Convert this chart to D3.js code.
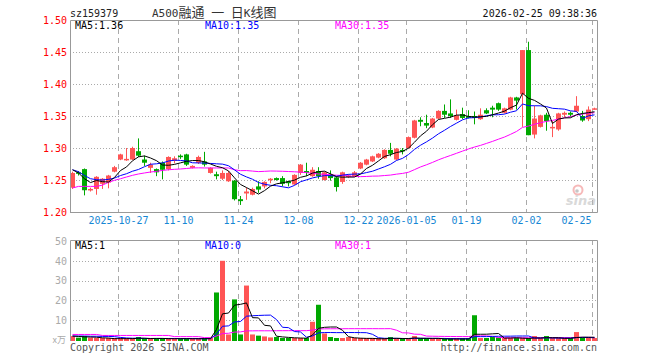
<!DOCTYPE html>
<html>
<head>
<meta charset="utf-8">
<script src="https://cdn.jsdelivr.net/npm/d3@7"></script>
<style>
body { margin: 0; background: #fff; }
text { font-family: "DejaVu Sans Mono", monospace; font-size: 10px; }
</style>
</head>
<body>
<div id="chart"></div>
<script>
// daily candles 2025-10-15 .. 2026-02-25 (88 trading days)
var open  = [1.238,1.262,1.267,1.234,1.236,1.244,1.246,1.263,1.282,1.281,1.282,1.295,1.282,1.269,1.267,1.277,1.267,1.280,1.288,1.290,
             1.269,1.277,1.279,1.261,1.259,1.252,1.248,1.249,1.220,1.229,1.227,1.240,1.240,1.250,1.253,1.253,1.248,1.243,1.261,1.264,
             1.256,1.264,1.250,1.258,1.254,1.247,1.255,1.256,1.268,1.274,1.279,1.285,1.284,1.297,1.282,1.297,1.300,1.316,1.344,1.339,
             1.332,1.346,1.358,1.354,1.344,1.353,1.350,1.350,1.345,1.359,1.363,1.370,1.355,1.360,1.379,1.384,1.453,1.321,1.333,1.352,
             1.332,1.329,1.352,1.355,1.357,1.350,1.345,1.361];
var high  = [1.263,1.264,1.268,1.238,1.256,1.253,1.258,1.272,1.291,1.300,1.302,1.315,1.288,1.277,1.268,1.279,1.287,1.287,1.290,1.291,
             1.273,1.288,1.294,1.270,1.263,1.265,1.264,1.250,1.225,1.238,1.238,1.248,1.248,1.253,1.254,1.256,1.249,1.259,1.275,1.277,
             1.270,1.270,1.263,1.265,1.256,1.263,1.259,1.264,1.278,1.283,1.288,1.292,1.298,1.308,1.300,1.300,1.318,1.344,1.348,1.352,
             1.347,1.359,1.368,1.376,1.360,1.363,1.359,1.357,1.362,1.362,1.366,1.371,1.363,1.380,1.380,1.453,1.466,1.366,1.352,1.355,
             1.342,1.355,1.357,1.357,1.381,1.358,1.365,1.363];
var low   = [1.236,1.257,1.226,1.232,1.227,1.236,1.237,1.262,1.281,1.280,1.281,1.286,1.272,1.261,1.256,1.251,1.265,1.276,1.283,1.272,
             1.268,1.275,1.271,1.260,1.251,1.250,1.247,1.218,1.211,1.219,1.226,1.230,1.237,1.245,1.249,1.240,1.240,1.242,1.258,1.256,
             1.255,1.252,1.249,1.249,1.232,1.244,1.253,1.255,1.267,1.273,1.278,1.284,1.283,1.287,1.281,1.290,1.299,1.315,1.334,1.331,
             1.331,1.345,1.347,1.347,1.343,1.345,1.346,1.337,1.344,1.353,1.348,1.358,1.354,1.359,1.360,1.333,1.320,1.315,1.332,1.327,
             1.317,1.327,1.348,1.348,1.356,1.341,1.342,1.360];
var close = [1.261,1.260,1.234,1.236,1.255,1.252,1.257,1.270,1.290,1.283,1.300,1.288,1.277,1.274,1.262,1.266,1.286,1.284,1.286,1.274,
             1.272,1.286,1.274,1.269,1.256,1.261,1.261,1.220,1.217,1.232,1.236,1.235,1.247,1.252,1.250,1.244,1.245,1.258,1.274,1.261,
             1.266,1.256,1.262,1.253,1.239,1.262,1.257,1.262,1.277,1.282,1.287,1.291,1.297,1.291,1.299,1.295,1.317,1.343,1.341,1.335,
             1.346,1.358,1.352,1.350,1.351,1.347,1.347,1.347,1.352,1.354,1.360,1.360,1.362,1.379,1.374,1.453,1.320,1.346,1.351,1.342,
             1.333,1.354,1.355,1.352,1.366,1.343,1.360,1.362];
// volume, 万
var volume = [2.0,1.2,2.0,1.2,0.6,0.5,0.6,0.5,1.2,0.6,0.6,1.5,0.6,0.5,0.8,0.6,0.8,0.5,0.6,0.8,
              0.5,0.8,0.6,0.7,24,40,2.8,20.5,2.8,27.5,2.8,2.2,1.8,1.3,1.5,1.0,1.0,0.8,0.7,1.0,
              9.2,17.8,3.3,1.5,1.0,1.0,1.5,0.6,0.5,0.5,1.0,0.5,0.5,1.5,0.7,0.5,0.5,2.0,0.7,0.5,
              0.5,0.5,0.5,0.5,0.5,0.5,0.5,12.5,0.5,0.6,1.5,1.3,0.8,0.7,1.2,0.6,0.6,2.0,0.6,2.0,
              0.5,0.6,0.6,0.6,4.0,1.3,0.5,0.5];

// averages before a full window exists
var priceMa5Head  = [1.266,1.261,1.252,1.246];
var priceMa10Head = [1.266,1.263,1.257,1.252,1.2505,1.250,1.251,1.253,1.257];
var priceMa30Head = [1.2375,1.240,1.240,1.240,1.240,1.242,1.2464,1.2495,1.252,1.2547,1.2573,1.2594,1.261,1.2625,1.2635,
                     1.265,1.266,1.2667,1.2672,1.268,1.2688,1.269,1.2688,1.2688,1.2688,1.2688,1.2688,1.266,1.2646];
var volMa5Head  = [2.0,1.8,1.6,1.5];
var volMa10Head = [2.0,2.0,2.0,1.9,1.9,1.8,1.8,1.7,1.3];
var volMa30Head = [2.8,2.8,2.8,2.8,2.8,2.3,2.3,2.3,2.3,2.3,2.3,2.3,2.3,2.3,2.3,2.3,2.3,
                   1.7,1.7,1.7,1.7,1.7,1.2,1.2,2.0,3.3,3.4,4.0,4.1];

var priceTicks = [1.20,1.25,1.30,1.35,1.40,1.45,1.50];
var volTicks = [10,20,30,40,50];
var dateLabels = ["2025-10-27","11-10","11-24","12-08","12-22","2026-01-05","01-19","02-02","02-25"];
var dateIndex  = [8,18,28,38,48,56,66,76,87];

var width = 660, height = 360;
var L = 70, R = 597;
var red = "#ff5555", green = "#00a800", grid = "#aaaaaa";

var svg = d3.select("#chart").append("svg").attr("width", width).attr("height", height);

var x = d3.scaleLinear().domain([0, close.length - 1]).range([72.5, 72.5 + 6 * (close.length - 1)]);
var y = d3.scaleLinear().domain([1.20, 1.50]).range([212, 20]);
var yv = d3.scaleLinear().domain([0, 50]).range([340, 241]);

function movAvg(vals, n, head) {
	return vals.map(function(v, i) {
		if (i < head.length) return head[i];
		return d3.mean(vals.slice(i - n + 1, i + 1));
	});
}
function isUp(i) { return close[i] >= open[i]; }

// header
svg.append("text").attr("x", 70).attr("y", 17).attr("fill", "#222").text("sz159379");
var title = svg.append("text").attr("x", 152).attr("y", 17).attr("fill", "#333");
[["A500", 0], ["融通", 1], [" ", 0], ["一", 1], [" ", 0], ["日", 1], ["K", 0], ["线图", 1]].forEach(function(p) {
	var t = title.append("tspan").attr("xml:space", "preserve").text(p[0]);
	if (p[1]) t.style("font-family", "Noto Sans CJK SC").style("font-size", "13px");
	else t.style("font-size", "11px");
});
svg.append("text").attr("x", 597).attr("y", 17).attr("text-anchor", "end").attr("fill", "#111").text("2026-02-25 09:38:36");

// grids
var panels = [{top: 20, bottom: 212, ticks: priceTicks.slice(1, -1).map(y)},
              {top: 240, bottom: 341, ticks: volTicks.slice(0, -1).map(yv)}];
panels.forEach(function(p) {
	svg.append("g").selectAll("line").data(p.ticks).enter().append("line")
		.attr("x1", L).attr("x2", R)
		.attr("y1", function(d) { return Math.round(d) + 0.5; })
		.attr("y2", function(d) { return Math.round(d) + 0.5; })
		.attr("stroke", grid).attr("stroke-dasharray", "1,2");
	svg.append("g").selectAll("line").data(dateIndex).enter().append("line")
		.attr("x1", function(d) { return x(d) - 2; })
		.attr("x2", function(d) { return x(d) - 2; })
		.attr("y1", p.top).attr("y2", p.bottom)
		.attr("stroke", grid).attr("stroke-dasharray", "5,4");
});

// sina mark
var logo = svg.append("g").attr("opacity", 0.55);
logo.append("circle").attr("cx", 578).attr("cy", 190).attr("r", 4.5).attr("fill", "none").attr("stroke", "#f08080").attr("stroke-width", 2);
logo.append("circle").attr("cx", 577).attr("cy", 191).attr("r", 1.8).attr("fill", "#999");
logo.append("text").attr("x", 596).attr("y", 205).attr("text-anchor", "end")
	.style("font-family", "DejaVu Sans").style("font-size", "13px").style("font-weight", "bold").style("font-style", "italic")
	.attr("fill", "#bbb").text("sina");

// candles
var idx = d3.range(close.length);
var cg = svg.append("g");
cg.selectAll("line").data(idx).enter().append("line")
	.attr("x1", function(i) { return x(i); }).attr("x2", function(i) { return x(i); })
	.attr("y1", function(i) { return y(high[i]); }).attr("y2", function(i) { return y(low[i]); })
	.attr("stroke", function(i) { return isUp(i) ? red : green; });
cg.selectAll("rect").data(idx).enter().append("rect")
	.attr("x", function(i) { return x(i) - 2.5; })
	.attr("width", 5)
	.attr("y", function(i) { return y(Math.max(open[i], close[i])); })
	.attr("height", function(i) { return Math.max(1.5, Math.abs(y(open[i]) - y(close[i]))); })
	.attr("fill", function(i) { return isUp(i) ? red : green; });

// volume bars
svg.append("g").selectAll("rect").data(idx).enter().append("rect")
	.attr("x", function(i) { return x(i) - 2.5; })
	.attr("width", 5)
	.attr("y", function(i) { return Math.min(yv(volume[i]), 338); })
	.attr("height", function(i) { return 341 - Math.min(yv(volume[i]), 338); })
	.attr("fill", function(i) { return isUp(i) ? red : green; });

// moving averages
function drawLine(vals, scale, color) {
	svg.append("path").datum(vals)
		.attr("fill", "none").attr("stroke", color).attr("stroke-width", 1)
		.attr("d", d3.line().x(function(d, i) { return x(i); }).y(function(d) { return scale(d); }));
}
drawLine(movAvg(close, 30, priceMa30Head), y, "#ff00ff");
drawLine(movAvg(close, 10, priceMa10Head), y, "#0000ff");
drawLine(movAvg(close, 5, priceMa5Head), y, "#000000");
drawLine(movAvg(volume, 30, volMa30Head), yv, "#ff00ff");
drawLine(movAvg(volume, 10, volMa10Head), yv, "#0000ff");
drawLine(movAvg(volume, 5, volMa5Head), yv, "#000000");

// frames
svg.append("path").attr("d", "M" + (L + 0.5) + ",213V20.5H" + (R + 0.5) + "V212.5H" + L)
	.attr("fill", "none").attr("stroke", "#999");
svg.append("path").attr("d", "M" + (L + 0.5) + ",341V240.5H" + (R + 0.5) + "V341")
	.attr("fill", "none").attr("stroke", "#999");

// axes
var ya = svg.append("g").attr("transform", "translate(" + L + ",0)")
	.call(d3.axisLeft(y).tickValues(priceTicks).tickSize(0).tickPadding(3).tickFormat(d3.format(".2f")));
ya.select(".domain").remove();
ya.selectAll("text").attr("fill", "#ff0000").style("font-size", "10px").style("font-family", "DejaVu Sans Mono");

var va = svg.append("g").attr("transform", "translate(" + L + ",0)")
	.call(d3.axisLeft(yv).tickValues(volTicks).tickSize(0).tickPadding(3));
va.select(".domain").remove();
va.selectAll("text").attr("fill", "#aaaaaa").style("font-size", "10px").style("font-family", "DejaVu Sans Mono");
svg.append("text").attr("x", 66).attr("y", 343).attr("text-anchor", "end").attr("fill", "#aaa")
	.style("font-size", "9px").style("font-family", "Noto Sans CJK SC").text("x万");

svg.append("g").selectAll("text").data(dateIndex).enter().append("text")
	.attr("x", function(d) { return x(d) - 2; })
	.attr("y", 224)
	.attr("text-anchor", function(d) { return x(d) + 15 > R ? "end" : "middle"; })
	.attr("dx", function(d) { return x(d) + 15 > R ? -1 : 0; })
	.attr("fill", "#1787d4")
	.text(function(d, i) { return dateLabels[i]; });

// legends
var legends = [
	{y: 29, items: [["MA5:1.36", "#000"], ["MA10:1.35", "#0000ff"], ["MA30:1.35", "#ff00ff"]]},
	{y: 249, items: [["MA5:1", "#000"], ["MA10:0", "#0000ff"], ["MA30:1", "#ff00ff"]]}
];
legends.forEach(function(lg) {
	lg.items.forEach(function(it, k) {
		svg.append("text").attr("x", 75 + k * 130).attr("y", lg.y).attr("fill", it[1]).text(it[0]);
	});
});

svg.append("text").attr("x", 70).attr("y", 351).attr("fill", "#555").text("Copyright 2026 SINA.COM");
svg.append("text").attr("x", 597).attr("y", 351).attr("text-anchor", "end").attr("fill", "#555").text("http://finance.sina.com.cn");
</script>
</body>
</html>
